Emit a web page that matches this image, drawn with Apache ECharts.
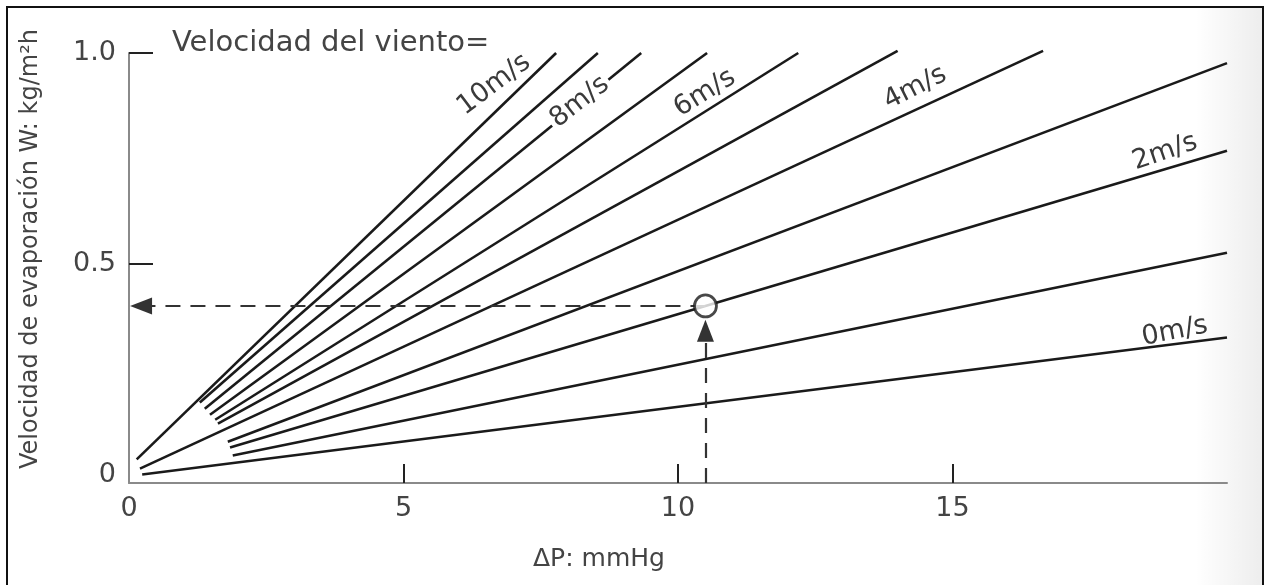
<!DOCTYPE html>
<html>
<head>
<meta charset="utf-8">
<script src="https://cdn.jsdelivr.net/npm/echarts@6/dist/echarts.min.js"></script>
<style>html,body{margin:0;padding:0;background:#fff}#c{width:1266px;height:585px}</style>
</head>
<body>
<div id="c"></div>
<script>
// ---- data ----
const xRange = [0, 20];
const yRange = [-0.02, 1.0];
const xLabelValues = [0, 5, 10, 15];
const xTickValues = [5, 10, 15];
const yLabelValues = [0, 0.5, 1.0];
const yTickValues = [0.5, 1.0];

const windSpeeds = ['10m/s','9m/s','8m/s','7m/s','6m/s','5m/s','4m/s','3m/s','2m/s','1m/s','0m/s'];
const lineStart = [[0.14,0.036],[1.29,0.171],[1.38,0.156],[1.475,0.142],[1.57,0.130],[1.62,0.121],[0.20,0.014],[1.80,0.078],[1.84,0.064],[1.89,0.045],[0.24,0.0]];
const lineEnd   = [[7.78,1.0],[8.54,1.0],[9.33,1.0],[10.53,1.0],[12.19,1.0],[14.0,1.005],[16.65,1.005],[20,0.976],[20,0.768],[20,0.526],[20,0.325]];

const labelTexts = ['10m/s','8m/s','6m/s','4m/s','2m/s','0m/s'];
const labelPoints = [[6.65,0.925],[8.21,0.884],[10.49,0.905],[14.32,0.917],[18.87,0.765],[19.05,0.339]];
const labelAngles = [37, 38, 32, 27, 19, 11];

const examplePoint = [10.5, 0.40];
const exampleArrowX = 0.22;   // left arrow centre on x
const exampleArrowY = 0.341;  // upward arrow centre on y

const titleText = 'Velocidad del viento=';
const xName = 'ΔP: mmHg';
const yName = 'Velocidad de evaporación W: kg/m²h';

// ---- chart ----
const FONT = 'DejaVu Sans';
const TXT = '#444';
const chart = echarts.init(document.getElementById('c'), null, {renderer:'canvas'});

const series = windSpeeds.map((n, i) => ({
  name: n, type: 'line', data: [lineStart[i], lineEnd[i]],
  symbol: 'none', clip: false, silent: true, z: 2,
  lineStyle: {color: '#1a1a1a', width: 2.6}
}));

series.push({
  name: 'labels', type: 'scatter', z: 5, silent: true,
  symbolSize: 0.1, itemStyle: {color: 'rgba(0,0,0,0)'},
  data: labelPoints.map((p, i) => ({
    value: p,
    label: {
      show: true, position: 'inside', formatter: labelTexts[i], rotate: labelAngles[i],
      fontFamily: FONT, fontSize: 27, color: '#3a3a3a', opacity: 1,
      backgroundColor: labelTexts[i] === '8m/s' ? '#fff' : 'transparent',
      padding: labelTexts[i] === '8m/s' ? [0, 3] : 0
    }
  }))
});

series.push({
  name: 'guide', type: 'line', data: [], symbol: 'none', z: 3,
  markLine: {
    silent: true, animation: false,
    symbol: ['none', 'triangle'], symbolSize: [17, 22],
    label: {show: false},
    lineStyle: {type: [15, 10], color: '#333', width: 2.2},
    itemStyle: {color: '#222'},
    data: [
      [{coord: examplePoint}, {coord: [exampleArrowX, examplePoint[1]]}],
      [{coord: [examplePoint[0], yRange[0]]}, {coord: [examplePoint[0], exampleArrowY]}]
    ]
  }
});

series.push({
  name: 'point', type: 'scatter', z: 6, silent: true,
  data: [examplePoint], symbol: 'circle', symbolSize: 22,
  itemStyle: {color: '#fff', borderColor: '#1a1a1a', borderWidth: 2.8}
});

chart.setOption({
  animation: false,
  backgroundColor: '#fff',
  title: [
    {text: titleText, left: 172, top: 29, padding: 0,
     textStyle: {fontFamily: FONT, fontSize: 29, fontWeight: 'normal', color: TXT}},
    {text: xName, left: 533, top: 547, padding: 0,
     textStyle: {fontFamily: FONT, fontSize: 25, fontWeight: 'normal', color: TXT}}
  ],
  grid: {left: 129, right: 39, top: 53, bottom: 102, containLabel: false},
  xAxis: {
    type: 'value', min: xRange[0], max: xRange[1],
    splitLine: {show: false},
    axisLine: {show: true, onZero: false, lineStyle: {color: '#8a8a8a', width: 2}},
    axisTick: {show: true, inside: true, length: 19, customValues: xTickValues, lineStyle: {color: '#222', width: 2}},
    axisLabel: {show: true, customValues: xLabelValues, margin: 12, fontFamily: FONT, fontSize: 27, color: TXT,
                formatter: v => String(v)}
  },
  yAxis: {
    type: 'value', min: yRange[0], max: yRange[1],
    splitLine: {show: false},
    axisLine: {show: true, onZero: false, lineStyle: {color: '#8a8a8a', width: 2}},
    axisTick: {show: true, inside: true, length: 24, customValues: yTickValues, lineStyle: {color: '#222', width: 2}},
    axisLabel: {show: true, customValues: yLabelValues, margin: 13, fontFamily: FONT, fontSize: 27, color: TXT,
                formatter: v => v === 0 ? '0' : v.toFixed(1)}
  },
  graphic: [
    {type: 'rect', z: -10, silent: true, shape: {x: 1195, y: 8, width: 67, height: 580},
     style: {fill: new echarts.graphic.LinearGradient(0, 0, 1, 0, [
       {offset: 0, color: 'rgba(0,0,0,0)'}, {offset: 1, color: 'rgba(0,0,0,0.07)'}])}},
    {type: 'rect', z: 100, silent: true, shape: {x: 7, y: 7, width: 1256, height: 600},
     style: {fill: 'none', stroke: '#111', lineWidth: 2}},
    {type: 'text', z: 50, silent: true, x: 31, y: 249, rotation: Math.PI / 2,
     style: {text: yName, fontFamily: FONT, fontSize: 24, fill: TXT, align: 'center', verticalAlign: 'middle'}}
  ],
  series: series
});
</script>
</body>
</html>
